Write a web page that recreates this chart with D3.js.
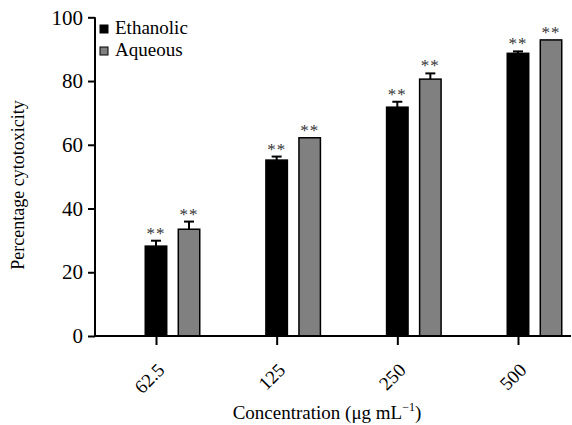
<!DOCTYPE html>
<html>
<head>
<meta charset="utf-8">
<script src="https://cdn.jsdelivr.net/npm/d3@7"></script>
<style>
  body { margin: 0; background: #fff; }
</style>
</head>
<body>
<div id="chart"></div>
<script>
// data
var concentrations = ["62.5", "125", "250", "500"];
var seriesNames = ["Ethanolic", "Aqueous"];
var ethanolic = [28.2, 55.2, 71.8, 88.7];
var ethanolicErr = [1.7, 1.1, 1.7, 0.6];
var aqueous = [33.5, 62.2, 80.6, 92.9];
var aqueousErr = [2.4, 0, 1.8, 0];
var yTicks = [0, 20, 40, 60, 80, 100];

var colors = { "Ethanolic": "#000000", "Aqueous": "#808080" };
var serif = "Liberation Serif";

var width = 572, height = 425;

var svg = d3.select("#chart")
  .append("svg")
    .attr("width", width)
    .attr("height", height)
    .attr("font-family", serif);

// scales
var y = d3.scaleLinear()
  .domain([0, 100])
  .range([336, 17.3]);

var x0 = d3.scalePoint()
  .domain(concentrations)
  .range([156, 518]);

var x1 = d3.scaleBand()
  .domain(seriesNames)
  .range([-10.75, 43.75])
  .paddingInner(0.35);

// build rows
var rows = [];
concentrations.forEach(function(c, i) {
  rows.push({ conc: c, series: "Ethanolic", value: ethanolic[i], err: ethanolicErr[i] });
  rows.push({ conc: c, series: "Aqueous", value: aqueous[i], err: aqueousErr[i] });
});

// bars
svg.selectAll("rect.bar")
  .data(rows)
  .enter()
  .append("rect")
    .attr("class", "bar")
    .attr("x", function(d) { return x0(d.conc) + x1(d.series); })
    .attr("y", function(d) { return y(d.value); })
    .attr("width", x1.bandwidth())
    .attr("height", function(d) { return y(0) - y(d.value); })
    .attr("fill", function(d) { return colors[d.series]; })
    .attr("stroke", "#000")
    .attr("stroke-width", 1.5);

// error bars (upper half only)
var errRows = rows.filter(function(d) { return d.err > 0; });
var eb = svg.selectAll("g.err")
  .data(errRows)
  .enter()
  .append("g")
    .attr("class", "err")
    .attr("transform", function(d) {
      return "translate(" + (x0(d.conc) + x1(d.series) + x1.bandwidth() / 2) + ",0)";
    });
eb.append("line")
  .attr("y1", function(d) { return y(d.value); })
  .attr("y2", function(d) { return y(d.value + d.err); })
  .attr("stroke", "#000")
  .attr("stroke-width", 2);
eb.append("line")
  .attr("x1", -5).attr("x2", 5)
  .attr("y1", function(d) { return y(d.value + d.err); })
  .attr("y2", function(d) { return y(d.value + d.err); })
  .attr("stroke", "#000")
  .attr("stroke-width", 2);

// significance stars
svg.selectAll("text.star")
  .data(rows)
  .enter()
  .append("text")
    .attr("class", "star")
    .attr("x", function(d) { return x0(d.conc) + x1(d.series) + x1.bandwidth() / 2; })
    .attr("y", function(d) { return y(d.value + d.err) - 2; })
    .attr("text-anchor", "middle")
    .attr("font-size", 17)
    .attr("fill", "#333")
    .style("font-family", serif)
    .style("letter-spacing", "1px")
    .text("**");

// y axis
var yAxis = svg.append("g")
  .attr("transform", "translate(95,0)")
  .call(d3.axisLeft(y).tickValues(yTicks).tickSize(7).tickPadding(5));
yAxis.attr("font-family", serif);
yAxis.select(".domain").attr("stroke-width", 2).attr("d", "M0," + y(100) + "V" + y(0));
yAxis.selectAll(".tick line").attr("stroke-width", 2);
yAxis.selectAll(".tick text")
  .attr("font-size", 21)
  .style("font-family", serif)
  .attr("fill", "#000");

// x axis
svg.append("line")
  .attr("x1", 95).attr("x2", 571)
  .attr("y1", y(0)).attr("y2", y(0))
  .attr("stroke", "#000")
  .attr("stroke-width", 2);

var xAxis = svg.append("g")
  .attr("transform", "translate(0," + y(0) + ")")
  .call(d3.axisBottom(x0).tickSize(9).tickPadding(4));
xAxis.attr("font-family", serif);
xAxis.select(".domain").remove();
xAxis.selectAll(".tick line").attr("stroke-width", 2);
xAxis.selectAll(".tick text")
  .attr("font-size", 19)
  .style("font-family", serif)
  .attr("fill", "#000")
  .attr("text-anchor", "end")
  .attr("dy", 0)
  .attr("transform", "translate(0,26) rotate(-45)");

// axis titles
svg.append("text")
  .attr("transform", "translate(24,185) rotate(-90)")
  .attr("text-anchor", "middle")
  .attr("font-size", 18)
  .style("font-family", serif)
  .text("Percentage cytotoxicity");

var xt = svg.append("text")
  .attr("x", 327)
  .attr("y", 419)
  .attr("text-anchor", "middle")
  .attr("font-size", 19)
  .style("font-family", serif);
xt.append("tspan").text("Concentration (\u03bcg mL");
xt.append("tspan").attr("font-size", 12).attr("dy", -8).text("\u22121");
xt.append("tspan").attr("dy", 8).text(")");

// legend
var legend = svg.selectAll("g.legend")
  .data(seriesNames)
  .enter()
  .append("g")
    .attr("class", "legend")
    .attr("transform", function(d, i) { return "translate(100," + (25 + i * 22) + ")"; });
legend.append("rect")
  .attr("width", 8).attr("height", 8)
  .attr("fill", function(d) { return colors[d]; })
  .attr("stroke", "#000")
  .attr("stroke-width", 1);
legend.append("text")
  .attr("x", 15)
  .attr("y", 9)
  .attr("font-size", 19)
  .style("font-family", serif)
  .text(function(d) { return d; });
</script>
</body>
</html>
